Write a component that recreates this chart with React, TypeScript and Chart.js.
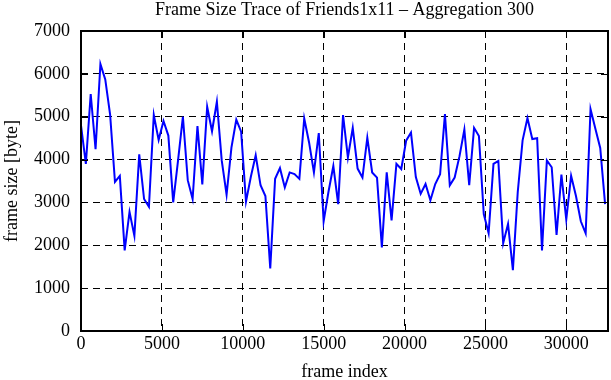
import React, { useEffect, useRef } from 'react';
import { Chart, registerables } from 'chart.js';

Chart.register(...registerables);

// Aggregation window (frames per point)
const AGGREGATION = 300;

// Aggregated frame size [byte], one value per 300 frames
const frameSize = [
  4800, 3900, 5530, 4240, 6230, 5870, 5050, 3480, 3620, 1880,
  2780, 2220, 4120, 3080, 2900, 5040, 4460, 4900, 4560, 3000,
  3980, 5000, 3520, 3080, 4780, 3420, 5230, 4660, 5350, 3980,
  3180, 4280, 4930, 4650, 3020, 3600, 4100, 3400, 3150, 1460,
  3550, 3800, 3350, 3700, 3660, 3550, 4960, 4400, 3700, 4620,
  2560, 3250, 3850, 2960, 5040, 4050, 4740, 3790, 3580, 4510,
  3700, 3580, 1950, 3700, 2580, 3900, 3780, 4440, 4630, 3590,
  3200, 3430, 3050, 3430, 3660, 5060, 3400, 3580, 4080, 4700,
  3400, 4740, 4550, 2730, 2280, 3900, 3970, 2050, 2500, 1420,
  3240, 4450, 4970, 4480, 4500, 1880, 3980, 3820, 2240, 3650,
  2600, 3620, 3150, 2560, 2280, 5180, 4720, 4270, 2960,
];

// Frame index of each aggregated point
const frameIndex = frameSize.map((_, i) => i * AGGREGATION);

const xTickValues = [0, 5000, 10000, 15000, 20000, 25000, 30000];
const yTickValues = [0, 1000, 2000, 3000, 4000, 5000, 6000, 7000];
const X_MIN = 0;
const X_MAX = 32580;
const Y_MIN = 0;
const Y_MAX = 7000;

const TITLE = 'Frame Size Trace of Friends1x11 \u2013 Aggregation 300';
const X_TITLE = 'frame index';
const Y_TITLE = 'frame size [byte]';

const FONT = "'Liberation Serif', 'Times New Roman', serif";

const framePlugin = {
  id: 'gnuplotFrame',
  afterDatasetsDraw(chart: any) {
    const { ctx, chartArea, scales } = chart;
    const { left, right, top, bottom } = chartArea;
    const L = 7;
    ctx.save();
    ctx.setLineDash([]);
    ctx.strokeStyle = '#000';
    ctx.lineWidth = 1;
    ctx.beginPath();
    for (const v of xTickValues) {
      const x = Math.round(scales.x.getPixelForValue(v)) + 0.5;
      ctx.moveTo(x, bottom);
      ctx.lineTo(x, bottom - L);
      ctx.moveTo(x, top);
      ctx.lineTo(x, top + L);
    }
    for (const v of yTickValues) {
      const y = Math.round(scales.y.getPixelForValue(v)) + 0.5;
      ctx.moveTo(left, y);
      ctx.lineTo(left + L, y);
      ctx.moveTo(right, y);
      ctx.lineTo(right - L, y);
    }
    ctx.stroke();
    ctx.lineWidth = 2;
    ctx.strokeRect(left, top, right - left, bottom - top);
    ctx.restore();
  },
};

export default function App() {
  const canvasRef = useRef<HTMLCanvasElement | null>(null);

  useEffect(() => {
    const canvas = canvasRef.current;
    if (!canvas) return;
    const chart = new Chart(canvas, {
      type: 'line',
      data: {
        datasets: [
          {
            data: frameIndex.map((x, i) => ({ x, y: frameSize[i] })),
            borderColor: '#0000ff',
            borderWidth: 2,
            pointRadius: 0,
            tension: 0,
            fill: false,
          },
        ],
      },
      options: {
        responsive: false,
        animation: false,
        devicePixelRatio: 1,
        layout: { padding: { left: 0, right: 3, top: 0, bottom: 0 } },
        plugins: {
          legend: { display: false },
          tooltip: { enabled: false },
          title: {
            display: true,
            text: TITLE,
            fullSize: false,
            color: '#000',
            font: { family: FONT, size: 18, weight: 'normal', lineHeight: 1.1 },
            padding: { top: 0, bottom: 11.2 },
          },
        },
        scales: {
          x: {
            type: 'linear',
            min: X_MIN,
            max: X_MAX,
            afterFit: (scale: any) => {
              scale.height = 49;
            },
            afterBuildTicks: (scale: any) => {
              scale.ticks = xTickValues.map((value) => ({ value }));
            },
            ticks: {
              color: '#000',
              font: { family: FONT, size: 18, lineHeight: 1.2 },
              padding: 2,
              maxRotation: 0,
              autoSkip: false,
              callback: (v: any) => String(v),
            },
            grid: {
              color: '#000',
              lineWidth: 1,
              drawTicks: false,
            },
            border: { display: false, dash: [7, 5] },
            title: {
              display: true,
              text: X_TITLE,
              color: '#000',
              font: { family: FONT, size: 18, lineHeight: 1 },
              padding: { top: 0, bottom: -1 },
            },
          },
          y: {
            type: 'linear',
            min: Y_MIN,
            max: Y_MAX,
            afterFit: (scale: any) => {
              scale.width = 81;
            },
            afterBuildTicks: (scale: any) => {
              scale.ticks = yTickValues.map((value) => ({ value }));
            },
            ticks: {
              color: '#000',
              font: { family: FONT, size: 18, lineHeight: 1.2 },
              padding: 11,
              autoSkip: false,
              callback: (v: any) => String(v),
            },
            grid: {
              color: '#000',
              lineWidth: 1,
              drawTicks: false,
            },
            border: { display: false, dash: [7, 5] },
            title: {
              display: true,
              text: Y_TITLE,
              color: '#000',
              font: { family: FONT, size: 18, lineHeight: 1 },
              padding: { top: 3, bottom: 0 },
            },
          },
        },
      },
      plugins: [framePlugin],
    });
    return () => chart.destroy();
  }, []);

  return (
    <div style={{ position: 'absolute', left: 0, top: 0, width: 611, height: 380, background: '#fff' }}>
      <canvas ref={canvasRef} width={611} height={380} style={{ display: 'block' }} />
    </div>
  );
}
